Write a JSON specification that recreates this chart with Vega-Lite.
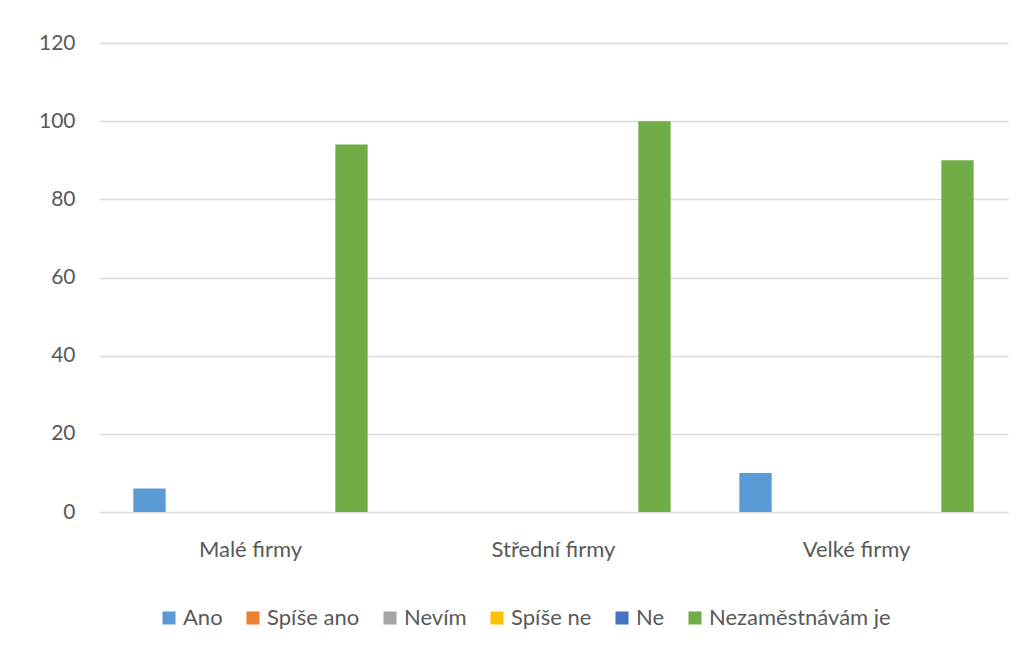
{
  "$schema": "https://vega.github.io/schema/vega-lite/v6.json",
  "width": 909,
  "height": 469,
  "autosize": {"type": "none"},
  "padding": {"left": 99, "top": 43, "right": 16, "bottom": 136},
  "background": "white",
  "data": {
    "values": [
      {"firma": "Malé firmy", "odpoved": "Ano", "hodnota": 6},
      {"firma": "Malé firmy", "odpoved": "Spíše ano", "hodnota": 0},
      {"firma": "Malé firmy", "odpoved": "Nevím", "hodnota": 0},
      {"firma": "Malé firmy", "odpoved": "Spíše ne", "hodnota": 0},
      {"firma": "Malé firmy", "odpoved": "Ne", "hodnota": 0},
      {"firma": "Malé firmy", "odpoved": "Nezaměstnávám je", "hodnota": 94},
      {"firma": "Střední firmy", "odpoved": "Ano", "hodnota": 0},
      {"firma": "Střední firmy", "odpoved": "Spíše ano", "hodnota": 0},
      {"firma": "Střední firmy", "odpoved": "Nevím", "hodnota": 0},
      {"firma": "Střední firmy", "odpoved": "Spíše ne", "hodnota": 0},
      {"firma": "Střední firmy", "odpoved": "Ne", "hodnota": 0},
      {"firma": "Střední firmy", "odpoved": "Nezaměstnávám je", "hodnota": 100},
      {"firma": "Velké firmy", "odpoved": "Ano", "hodnota": 10},
      {"firma": "Velké firmy", "odpoved": "Spíše ano", "hodnota": 0},
      {"firma": "Velké firmy", "odpoved": "Nevím", "hodnota": 0},
      {"firma": "Velké firmy", "odpoved": "Spíše ne", "hodnota": 0},
      {"firma": "Velké firmy", "odpoved": "Ne", "hodnota": 0},
      {"firma": "Velké firmy", "odpoved": "Nezaměstnávám je", "hodnota": 90}
    ]
  },
  "mark": {"type": "bar"},
  "encoding": {
    "x": {
      "field": "firma",
      "type": "nominal",
      "sort": ["Malé firmy", "Střední firmy", "Velké firmy"],
      "scale": {"paddingInner": 0, "paddingOuter": 0},
      "axis": {
        "title": null,
        "labelAngle": 0,
        "ticks": false,
        "domain": false,
        "labelPadding": 27,
        "labelFontSize": 22,
        "labelColor": "#595959",
        "labelFont": "Lato"
      }
    },
    "xOffset": {
      "field": "odpoved",
      "type": "nominal",
      "sort": ["Ano", "Spíše ano", "Nevím", "Spíše ne", "Ne", "Nezaměstnávám je"],
      "scale": {"paddingInner": 0.2, "paddingOuter": 0.85}
    },
    "y": {
      "field": "hodnota",
      "type": "quantitative",
      "scale": {"domain": [0, 120]},
      "axis": {
        "title": null,
        "values": [0, 20, 40, 60, 80, 100, 120],
        "ticks": false,
        "domain": false,
        "labelPadding": 24,
        "labelFontSize": 21,
        "labelColor": "#595959",
        "labelFont": "Lato",
        "gridColor": "#D9D9D9",
        "gridWidth": 1.3
      }
    },
    "color": {
      "field": "odpoved",
      "type": "nominal",
      "sort": ["Ano", "Spíše ano", "Nevím", "Spíše ne", "Ne", "Nezaměstnávám je"],
      "scale": {
        "domain": ["Ano", "Spíše ano", "Nevím", "Spíše ne", "Ne", "Nezaměstnávám je"],
        "range": ["#5B9BD5", "#ED7D31", "#A5A5A5", "#FFC000", "#4472C4", "#70AD47"]
      },
      "legend": {
        "title": null,
        "orient": "none",
        "legendX": 59,
        "legendY": 564,
        "direction": "horizontal",
        "symbolType": "square",
        "symbolSize": 170,
        "symbolStrokeWidth": 0,
        "labelFontSize": 22,
        "labelLimit": 400,
        "labelColor": "#595959",
        "labelFont": "Lato",
        "labelOffset": 3,
        "columnPadding": 19
      }
    }
  },
  "config": {
    "view": {"stroke": null},
    "font": "Lato"
  }
}
